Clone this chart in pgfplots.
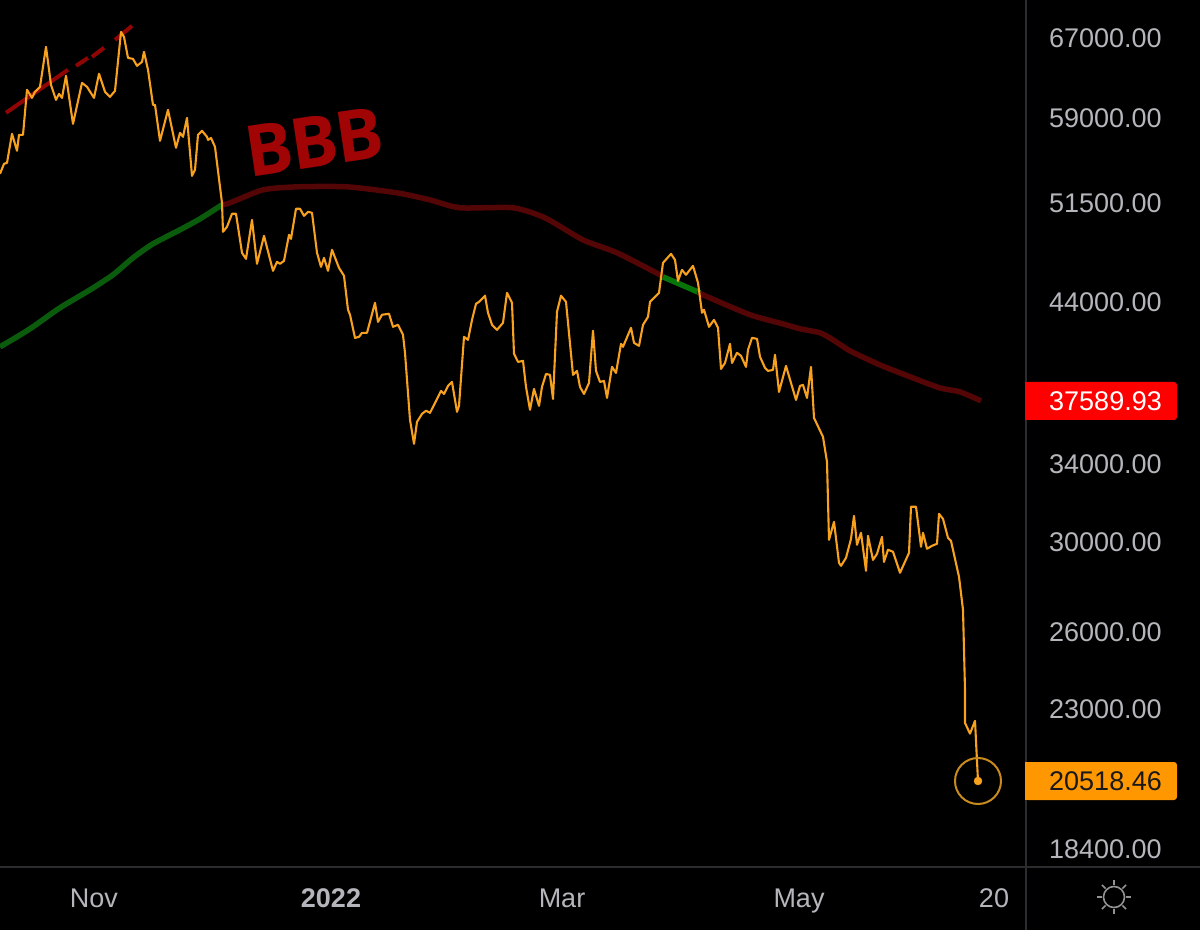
\documentclass[border=0pt]{standalone}
\usepackage{fontspec}
\setmainfont{Liberation Sans}
\newfontfamily\bbbfont[LetterSpace=-3]{Open Sans}
\usepackage{pgfplots}
\pgfplotsset{compat=1.18}
\definecolor{priceline}{HTML}{F7A11E}
\definecolor{ringc}{HTML}{C98A1E}
\definecolor{magreen}{HTML}{0A5C0C}
\definecolor{mared}{HTML}{540505}
\definecolor{bbbred}{HTML}{A00404}
\definecolor{tickc}{HTML}{B4B6BB}
\definecolor{gridc}{HTML}{2C2C30}
\definecolor{tagorange}{HTML}{FF9800}
\begin{document}
\begin{tikzpicture}[x=1pt,y=1pt]
\useasboundingbox (0,0) rectangle (1200,930);
\fill[black] (0,0) rectangle (1200,930);
\begin{axis}[
  at={(0pt,63pt)},anchor=south west,
  scale only axis,width=1026pt,height=867pt,
  xmin=0,xmax=1026,ymode=log,ymin=17895,ymax=71180,
  axis line style={draw=none},
  major tick length=0pt,minor tick length=0pt,
  log ticks with fixed point,
  xtick={94,331,562,799,994},
  xticklabels={Nov,\textbf{2022},Mar,May,20},
  ytick={67000,59000,51500,44000,34000,30000,26000,23000,18400},
  yticklabels={67000.00,59000.00,51500.00,44000.00,34000.00,30000.00,26000.00,23000.00,18400.00},
  yticklabel pos=right,
  every tick label/.append style={font=\fontsize{27}{30}\selectfont,text=tickc},
  yticklabel style={anchor=west,inner sep=0pt,outer sep=0pt,xshift=23pt},
  xticklabel style={anchor=center,inner sep=0pt,outer sep=0pt,yshift=-31pt,text height=19.5pt,text depth=0pt},
  minor tick num=0,
  line join=round,
]
% moving average, below price: green
\addplot[magreen,line width=5.5pt,no marks,smooth,tension=0.4] coordinates {
(0,40965)(17,41621)(33,42292)(60,43593)(90,44855)(113,45943)(133,47200)(153,48267)(180,49357)(200,50224)(222,51360)
};
% moving average, above price: red
\addplot[mared,line width=5.5pt,no marks,smooth,tension=0.4] coordinates {
(222,51360)(230,51522)(263,52596)(297,52852)(347,52852)(397,52350)(430,51765)(460,51117)(513,51117)(545,50305)(583,48571)(617,47583)(660,45943)(663,45790)
};
\addplot[magreen!85!green,line width=5.5pt,no marks] coordinates {
(663,45790)(700,44642)
};
\addplot[mared,line width=5.5pt,no marks,smooth,tension=0.4] coordinates {
(700,44642)(703,44500)(750,43110)(783,42490)(800,42158)(820,41889)(833,41420)(850,40705)(880,39807)(913,38990)(940,38374)(960,38132)(981,37590)
};
% dashed trend line
\addplot[bbbred!90!black,line width=4pt,no marks,unbounded coords=jump] coordinates {
(6,59466)(68,63683)
(70,nan)
(76,64087)(88,64903)
(90,nan)
(92,65005)(104,65950)
(110,nan)
(115,66787)(132,68293)
};
% price
\addplot[priceline,line width=2.1pt,no marks] coordinates {
(0,53960)(4,54824)(7,54910)(12,57510)(17,55976)(19,57415)(23,57415)(27,61686)(32,60896)(35,61490)
(40,61980)(46,66052)(51,62176)(56,60701)(59,61290)(62,60896)(66,63077)(73,58430)(82,62372)(87,61980)
(94,60896)(99,63279)(105,61490)(110,60995)(115,61588)(121,67640)(124,67107)(128,64903)(133,64798)(137,64087)
(142,64491)(144,65533)(148,63683)(153,60226)(155,60226)(160,56866)(168,59748)(176,56243)(180,57602)(183,57234)
(187,58988)(192,53786)(195,54305)(198,57415)(202,57786)(207,57234)(208,56955)(211,57133)(215,56332)(220,52852)
(222,51522)(223,49200)(227,49593)(232,50631)(236,50631)(242,47583)(246,47124)(252,50143)(257,46752)(264,48885)
(273,46234)(277,46900)(280,46752)(284,46974)(289,48964)(291,48650)(296,51036)(300,51036)(304,50469)(308,50793)
(312,50712)(317,47583)(321,46530)(324,47200)(328,46234)(332,47811)(339,46456)(344,45870)(348,43455)(350,43110)
(355,41554)(359,41621)(362,41889)(367,41889)(375,43938)(378,42627)(382,43110)(389,43179)(393,42292)(398,42426)
(403,41755)(405,40575)(410,36466)(414,35103)(417,36352)(422,36820)(426,37000)(430,36880)(435,37463)(441,38193)
(444,38010)(448,38498)(452,38742)(457,36938)(459,37292)(464,41621)(468,41420)(472,42761)(476,43869)(479,44007)
(485,44437)(488,43244)(492,42426)(497,42090)(503,42560)(507,44642)(512,43938)(514,40512)(518,39996)(523,40059)
(526,38437)(530,37056)(534,38315)(539,37292)(542,38437)(546,39240)(550,39179)(553,37707)(557,43317)(561,44437)
(566,44007)(573,39179)(577,39430)(580,38437)(584,38010)(589,38681)(593,42023)(596,39430)(600,38742)(604,38803)
(607,37768)(612,39681)(616,39304)(621,41160)(623,40965)(631,42225)(634,41225)(639,41030)(643,42426)(648,42968)
(650,44007)(659,44642)(663,46826)(671,47500)(675,47048)(678,45502)(682,46308)(686,45943)(693,46604)(698,45360)
(702,43248)(704,43455)(709,42292)(714,42761)(718,42225)(721,39555)(725,39933)(730,41160)(732,39933)(737,40575)
(741,40382)(746,39681)(748,40770)(752,41554)(757,41487)(760,40317)(765,39618)(768,39430)(773,39492)(775,40447)
(779,38132)(786,39744)(796,37646)(800,38498)(803,38559)(807,37768)(811,39681)(814,36584)(823,35494)(827,34108)
(829,30123)(834,31000)(839,29041)(841,28903)(846,29273)(851,30172)(854,31298)(857,29888)(861,30466)(866,28678)
(868,30319)(873,29179)(877,29461)(882,30270)(884,29087)(888,29653)(893,29559)(900,28586)(909,29508)(911,31754)
(916,31754)(921,29794)(923,30466)(927,29700)(932,29841)(937,29935)(939,31398)(943,31148)(948,30221)(951,30076)
(959,28402)(963,26948)(965,23727)(965,22504)(970,22125)(975,22580)(978,20518)
};
\addplot[only marks,mark=*,mark size=4pt,mark options={fill=priceline,draw=priceline}] coordinates {(978,20518)};
\addplot[only marks,mark=o,mark size=23pt,mark options={draw=ringc,line width=2pt}] coordinates {(978,20518)};
\end{axis}
% frame lines
\draw[gridc,line width=1.6pt] (1026,930) -- (1026,0);
\draw[gridc,line width=1.6pt] (0,63) -- (1200,63);
% BBB annotation
\node[rotate=8.5,text=bbbred,inner sep=0pt] at (314,788) {\bbbfont\bfseries\fontsize{71}{72}\selectfont BBB};
% price tags
\fill[red,rounded corners=3pt] (1025,510) -- (1177,510) -- (1177,548) -- (1025,548) -- cycle;
\fill[red] (1025,510) rectangle (1032,548);
\node[anchor=west,inner sep=0pt,text=white] at (1049,529) {\fontsize{27}{30}\selectfont 37589.93};
\fill[tagorange,rounded corners=3pt] (1025,130) -- (1177,130) -- (1177,168) -- (1025,168) -- cycle;
\fill[tagorange] (1025,130) rectangle (1032,168);
\node[anchor=west,inner sep=0pt,text=black!90] at (1049,149) {\fontsize{27}{30}\selectfont 20518.46};
% settings icon
\draw[gray!85!white,line width=1.6pt] (1114,33) circle (10.5);
\foreach \a in {0,45,...,315} \draw[gray!85!white,line width=1.6pt] (1114,33)++(\a:12) -- ++(\a:5);
\end{tikzpicture}
\end{document}
